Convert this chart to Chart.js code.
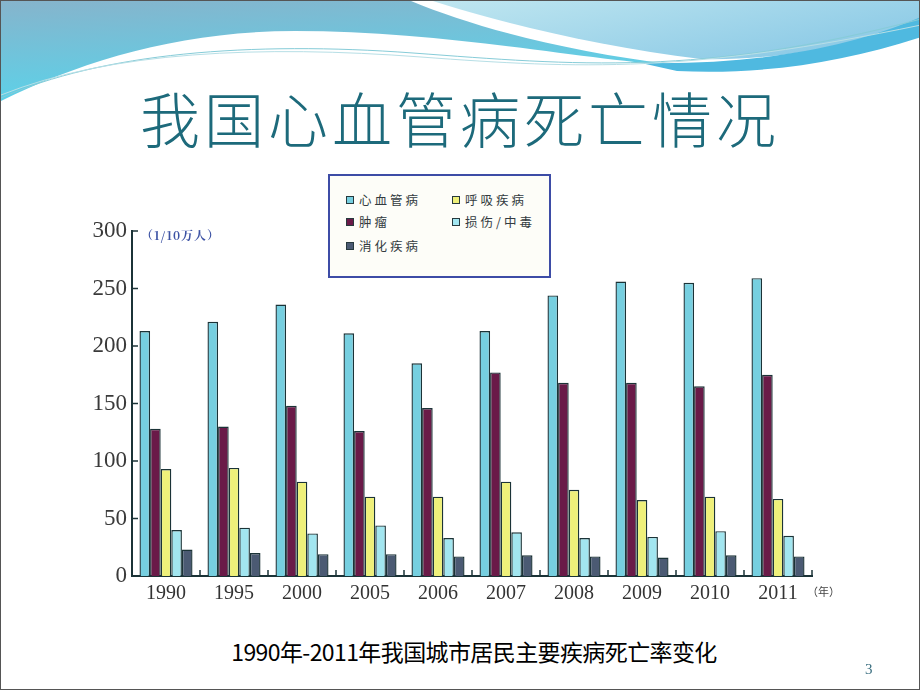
<!DOCTYPE html>
<html>
<head>
<meta charset="utf-8">
<script src="https://cdn.jsdelivr.net/npm/chart.js@4"></script>
<style>
  html, body { margin: 0; padding: 0; background: #fff; }
  #slide { position: relative; width: 918px; height: 688px; border: 1px solid #555; overflow: hidden; background: #fff; }
  #deco { position: absolute; left: 0; top: 0; }
  #title { position: absolute; left: 0; width: 918px; top: 76px; text-align: center;
    font-family: "Noto Sans CJK SC", sans-serif; font-weight: 300; font-size: 60px; letter-spacing: 4px;
    color: #1d6a7b; line-height: 80px; }
  #wrap { position: absolute; left: 60px; top: 160px; width: 800px; height: 460px; }
  #legend { position: absolute; left: 327px; top: 173px; width: 219px; height: 100px;
    border: 2px solid #3d4ca6; background: #fdfdf8; }
  .item { position: absolute; font-family: "Noto Sans CJK SC", sans-serif; font-size: 12.5px;
    letter-spacing: 3px; color: #333b40; line-height: 16px; white-space: nowrap; }
  .item i { display: inline-block; width: 6px; height: 6px; border: 1px solid #27393d;
    margin-right: 5px; vertical-align: 1px; }
  #unit { position: absolute; left: 140px; top: 225px; font-family: "Noto Serif CJK SC", "Noto Sans CJK SC", serif;
    font-weight: bold; font-size: 12px; color: #3c52a4; letter-spacing: 1px; }
  #yearUnit { position: absolute; left: 806px; top: 582px; font-family: "Noto Sans CJK SC", sans-serif;
    font-size: 11px; color: #444; }
  #caption { position: absolute; left: 0; width: 946px; top: 633px; text-align: center;
    font-family: "Noto Sans CJK SC", sans-serif; font-size: 23px; color: #000; letter-spacing: -0.6px; }
  #page { position: absolute; left: 864px; top: 660px; font-family: "Liberation Serif", serif;
    font-size: 15px; color: #3b6f80; }
</style>
</head>
<body>
<div id="slide">
  <svg id="deco" width="920" height="120" viewBox="0 0 920 120">
    <defs>
      <linearGradient id="gl" x1="0" y1="0" x2="0.3" y2="1">
        <stop offset="0" stop-color="#86b4cc"/>
        <stop offset="1" stop-color="#5ad3ea"/>
      </linearGradient>
      <linearGradient id="gr" x1="0" y1="0" x2="1" y2="0.6">
        <stop offset="0" stop-color="#bfe6f0"/>
        <stop offset="1" stop-color="#8ccae6"/>
      </linearGradient>
    </defs>
    <path d="M0,0 H410 C470,25 560,50 676,64 C600,62 450,30 294,30 C180,30 80,60 0,100 Z" fill="url(#gl)"/>
    <path d="M432,0 H920 V22 C860,42 780,60 700,58 C600,46 500,22 432,0 Z" fill="url(#gr)"/>
    <path d="M640,62 C760,64 850,46 920,16 V36 C840,62 760,74 676,70 Z" fill="#4fb9e0"/>
    <path d="M0,97 C100,52 250,40 412,52 S700,76 920,18" fill="none" stroke="#86ccd8" stroke-width="1"/>
    <path d="M0,94 C110,50 260,44 420,56 S690,72 920,24" fill="none" stroke="#b7dfe6" stroke-width="1"/>
  </svg>
  <div id="title">我国心血管病死亡情况</div>
  <div id="wrap"><canvas id="chart" width="800" height="460"></canvas></div>
  <div id="legend"></div>
  <div id="unit">（1/10万人）</div>
  <div id="yearUnit">（年）</div>
  <div id="caption">1990年-2011年我国城市居民主要疾病死亡率变化</div>
  <div id="page">3</div>
</div>
<script>
// data (deaths per 100 000 people)
const years = ['1990', '1995', '2000', '2005', '2006', '2007', '2008', '2009', '2010', '2011'];
const cardio = [213, 221, 236, 211, 185, 213, 244, 256, 255, 259];
const tumor = [128, 130, 148, 126, 146, 177, 168, 168, 165, 175];
const respiratory = [93, 94, 82, 69, 69, 82, 75, 66, 69, 67];
const injury = [40, 42, 37, 44, 33, 38, 33, 34, 39, 35];
const digestive = [23, 20, 19, 19, 17, 18, 17, 16, 18, 17];
const yTicks = [0, 50, 100, 150, 200, 250, 300];

const serif = '"Liberation Serif", "DejaVu Serif", serif';
const edge = '#1b3337';

// short inward tick marks like the printed chart
const innerTicks = {
  id: 'innerTicks',
  afterDatasetsDraw(chart) {
    const ctx = chart.ctx, x = chart.scales.x, y = chart.scales.y;
    const area = chart.chartArea;
    ctx.save();
    ctx.strokeStyle = edge;
    ctx.lineWidth = 1.5;
    yTicks.forEach(v => {
      const py = y.getPixelForValue(v);
      ctx.beginPath(); ctx.moveTo(area.left, py); ctx.lineTo(area.left + 6, py); ctx.stroke();
    });
    const step = (area.right - area.left) / years.length;
    for (let i = 1; i <= years.length; i++) {
      const px = area.left + i * step;
      ctx.beginPath(); ctx.moveTo(px, area.bottom); ctx.lineTo(px, area.bottom - 6); ctx.stroke();
    }
    ctx.restore();
  }
};

const ds = (label, data, color) => ({
  label: label, data: data, backgroundColor: color,
  borderColor: edge, borderWidth: 1.4, barPercentage: 1, categoryPercentage: 0.78
});

const datasets = [
  ds('心血管病', cardio, '#76cfe0'),
  ds('肿瘤', tumor, '#6a1a48'),
  ds('呼吸疾病', respiratory, '#eef07a'),
  ds('损伤/中毒', injury, '#a2e6f0'),
  ds('消化疾病', digestive, '#4b5a73')
];

var ctx = document.getElementById('chart').getContext('2d');
var myChart = new Chart(ctx, {
  type: 'bar',
  data: { labels: years, datasets: datasets },
  options: {
    responsive: false,
    animation: false,
    layout: { padding: { top: 70, right: 49, left: 0, bottom: 0 } },
    plugins: { legend: { display: false }, tooltip: { enabled: false } },
    scales: {
      x: {
        grid: { display: false, drawTicks: false },
        border: { display: true, color: edge, width: 2 },
        ticks: { color: '#333', font: { family: serif, size: 20 }, padding: 6, maxRotation: 0 },
        afterFit: s => { s.height = 45; }
      },
      y: {
        min: 0, max: 300,
        afterBuildTicks: s => { s.ticks = yTicks.map(v => ({ value: v })); },
        grid: { display: false, drawTicks: false },
        border: { display: true, color: edge, width: 2 },
        ticks: { color: '#3a3a3a', font: { family: serif, size: 23 }, padding: 5 },
        afterFit: s => { s.width = 71; }
      }
    }
  },
  plugins: [innerTicks]
});

// legend in the printed layout, built from the datasets
const spots = [[16, 16], [16, 38], [122, 16], [122, 38], [16, 62]];
const legend = document.getElementById('legend');
datasets.forEach((d, i) => {
  const el = document.createElement('div');
  el.className = 'item';
  el.style.left = spots[i][0] + 'px';
  el.style.top = spots[i][1] + 'px';
  el.innerHTML = '<i style="background:' + d.backgroundColor + '"></i>' + d.label;
  legend.appendChild(el);
});
</script>
</body>
</html>
